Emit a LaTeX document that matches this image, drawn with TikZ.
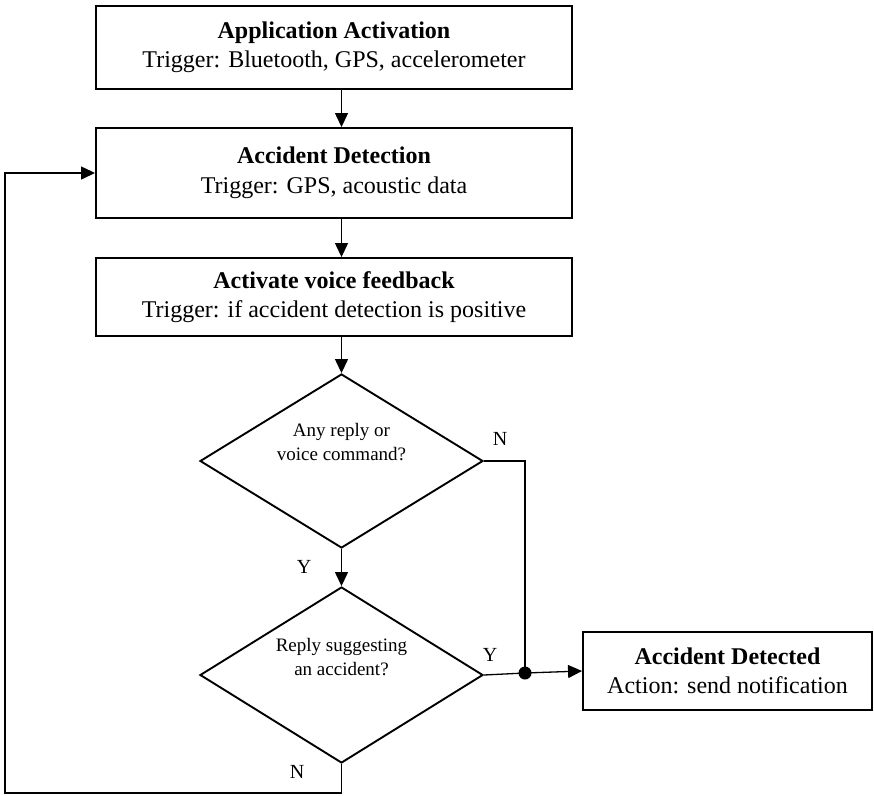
\documentclass[tikz,border=0pt]{standalone}
\usepackage{fontspec}
\setmainfont{Liberation Serif}
\usetikzlibrary{shapes.geometric,arrows.meta,calc}
\tikzset{
  procbox/.style={draw, line width=1.9pt, rectangle, inner sep=0pt, align=center,
    font=\fontsize{24}{29.5}\selectfont},
  decision/.style={draw, line width=1.9pt, diamond, inner sep=0pt, aspect=1.63},
  dtext/.style={align=center, inner sep=0pt, font=\fontsize{19}{23.5}\selectfont},
  lbl/.style={inner sep=0pt, font=\fontsize{20}{24}\selectfont},
  conn/.style={line width=1.3pt},
  arr/.style={line width=1.3pt, -{Triangle[length=14pt,width=13pt]}},
  jdot/.style={circle, fill=black, inner sep=0pt, minimum size=13pt}
}
\begin{document}
\begin{tikzpicture}[x=1pt,y=-1pt]
\useasboundingbox (0,0) rectangle (874,795);
% boxes
\node[procbox, minimum width=476pt, minimum height=83pt] (b1) at (334,47.5)
  {\textbf{Application Activation}\\Trigger: Bluetooth, GPS, accelerometer};
\node[procbox, minimum width=476pt, minimum height=90pt] (b2) at (334,173)
  {\textbf{Accident Detection}\\Trigger: GPS, acoustic data};
\node[procbox, minimum width=476pt, minimum height=78pt] (b3) at (334,297)
  {\textbf{Activate voice feedback}\\Trigger: if accident detection is positive};
\node[procbox, minimum width=289pt, minimum height=78pt] (b4) at (727.5,671)
  {\textbf{Accident Detected}\\Action: send notification};
% decisions
\node[decision, minimum width=283pt, minimum height=174pt] (d1) at (341.5,461) {};
\node[dtext] (q1) at (341.5,442) {Any reply or\\voice command?};
\node[decision, minimum width=283pt, minimum height=176pt] (d2) at (341.5,675) {};
\node[dtext] (q2) at (341.5,657) {Reply suggesting\\an accident?};
% junction
\node[jdot] (jd) at (525,673) {};
\coordinate (lb) at (5,793);
% connectors
\draw[arr] (b1.south -| d1.north) -- (b2.north -| d1.north);
\draw[arr] (b2.south -| d1.north) -- (b3.north -| d1.north);
\draw[arr] (b3.south -| d1.north) -- (d1.north);
\draw[arr] (d1.south) -- (d2.north);
\draw[conn] (d1.east) -- (d1.east -| jd) -- (jd.center);
\draw[conn] (d2.east) -- (jd.center);
\draw[arr] (jd.center) -- (b4.west);
\draw[arr] (d2.south) |- (lb) |- (b2.west);
% labels
\node[lbl] (ln1) at (500,439) {N};
\node[lbl] (ly1) at (304,567) {Y};
\node[lbl] (ly2) at (490,655) {Y};
\node[lbl] (ln2) at (297,772) {N};
\end{tikzpicture}
\end{document}
